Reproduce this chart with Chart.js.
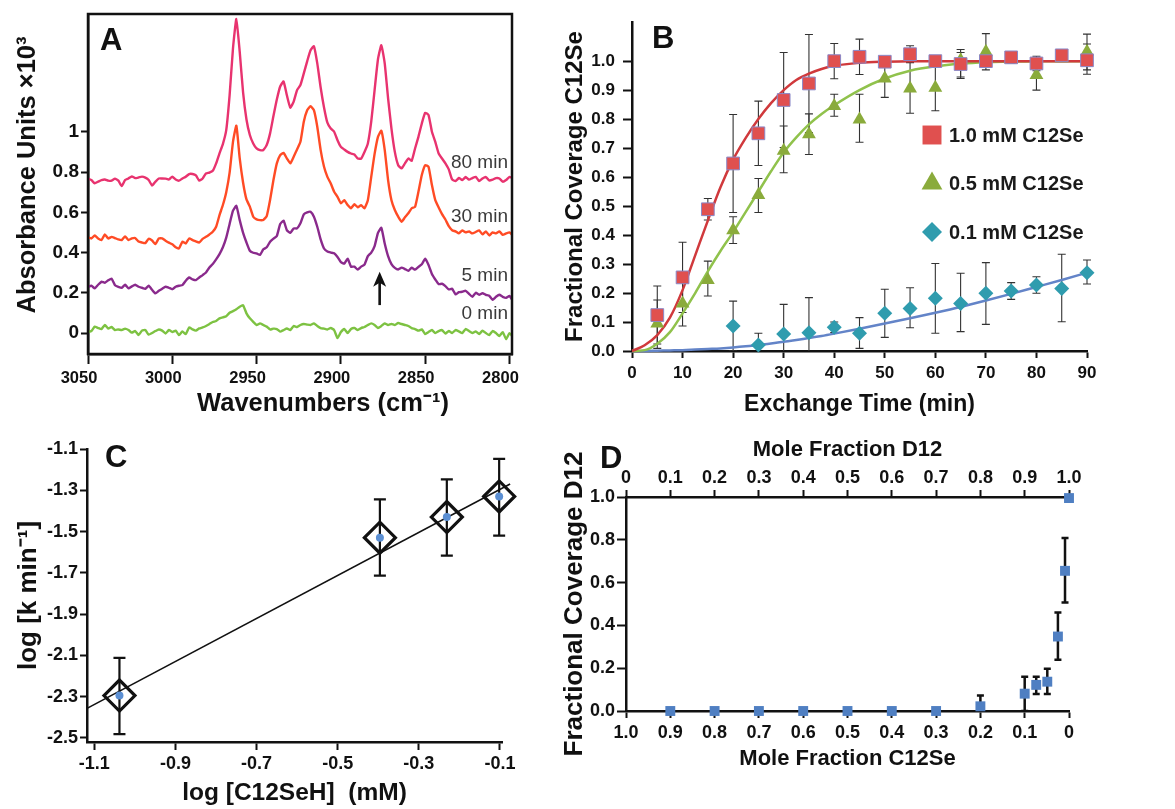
<!DOCTYPE html>
<html><head><meta charset="utf-8">
<script src="https://cdn.jsdelivr.net/npm/chart.js@4.4.1/dist/chart.umd.min.js"></script>
<style>
html,body{margin:0;padding:0;background:#fff;}
#wrap{position:relative;width:1175px;height:809px;overflow:hidden;background:#fff;}
canvas{position:absolute;}
</style></head><body>
<div id="wrap">
<canvas id="cA" width="545" height="425" style="left:0px;top:0px"></canvas>
<canvas id="cB" width="620" height="425" style="left:555px;top:0px"></canvas>
<canvas id="cC" width="545" height="389" style="left:0px;top:420px"></canvas>
<canvas id="cD" width="620" height="389" style="left:555px;top:420px"></canvas>
</div>
<script>
// ---------------- Panel A data ----------------
const waveNumbers = [
3050,3048,3046,3044,3042,3040,3038,3036,3034,3032,
3030,3028,3026,3024,3022,3020,3018,3016,3014,3012,
3010,3008,3006,3004,3002,3000,2998,2996,2994,2992,
2990,2988,2986,2984,2982,2980,2978,2976,2974,2972,
2970,2968,2966,2964,2962,2960,2958,2956,2954,2952,
2950,2948,2946,2944,2942,2940,2938,2936,2934,2932,
2930,2928,2926,2924,2922,2920,2918,2916,2914,2912,
2910,2908,2906,2904,2902,2900,2898,2896,2894,2892,
2890,2888,2886,2884,2882,2880,2878,2876,2874,2872,
2870,2868,2866,2864,2862,2860,2858,2856,2854,2852,
2850,2848,2846,2844,2842,2840,2838,2836,2834,2832,
2830,2828,2826,2824,2822,2820,2818,2816,2814,2812,
2810,2808,2806,2804,2802,2800,2798];
const abs80min = [
0.768,0.760,0.744,0.752,0.760,0.763,0.757,0.757,0.767,0.757,
0.730,0.760,0.768,0.778,0.770,0.773,0.777,0.772,0.760,0.733,
0.752,0.768,0.768,0.767,0.763,0.777,0.763,0.757,0.768,0.777,
0.790,0.790,0.783,0.757,0.768,0.793,0.797,0.806,0.843,0.893,
0.939,1.008,1.182,1.414,1.560,1.397,1.194,1.061,0.984,0.942,
0.917,0.909,0.909,0.934,0.992,1.078,1.160,1.225,1.250,1.180,
1.120,1.150,1.207,1.232,1.290,1.350,1.405,1.425,1.340,1.220,
1.121,1.045,1.016,1.000,0.958,0.925,0.912,0.900,0.892,0.887,
0.867,0.867,0.900,0.942,1.050,1.207,1.360,1.430,1.340,1.166,
1.016,0.900,0.834,0.818,0.843,0.867,0.856,0.917,0.975,1.041,
1.094,1.083,1.000,0.950,0.892,0.867,0.843,0.813,0.763,0.755,
0.770,0.760,0.775,0.762,0.770,0.776,0.755,0.768,0.775,0.758,
0.762,0.770,0.768,0.752,0.760,0.776,0.768];
const abs30min = [
0.475,0.470,0.485,0.470,0.462,0.490,0.470,0.478,0.472,0.465,
0.462,0.480,0.462,0.470,0.472,0.455,0.450,0.447,0.468,0.460,
0.442,0.470,0.470,0.459,0.449,0.441,0.426,0.421,0.454,0.445,
0.470,0.462,0.455,0.450,0.468,0.478,0.490,0.503,0.528,0.586,
0.636,0.700,0.797,0.950,1.030,0.868,0.747,0.664,0.628,0.578,
0.565,0.561,0.562,0.581,0.661,0.760,0.843,0.884,0.895,0.867,
0.843,0.876,0.912,0.950,1.050,1.107,1.127,1.107,1.025,0.909,
0.826,0.776,0.743,0.702,0.677,0.645,0.660,0.636,0.620,0.640,
0.625,0.635,0.620,0.660,0.776,0.890,0.975,1.005,0.910,0.760,
0.660,0.611,0.578,0.553,0.575,0.595,0.620,0.627,0.702,0.785,
0.834,0.826,0.735,0.660,0.624,0.591,0.564,0.531,0.511,0.505,
0.495,0.510,0.500,0.505,0.495,0.502,0.510,0.490,0.505,0.485,
0.500,0.495,0.505,0.488,0.495,0.500,0.485];
const abs5min = [
0.230,0.235,0.222,0.240,0.255,0.250,0.262,0.270,0.238,0.230,
0.225,0.240,0.222,0.232,0.240,0.230,0.225,0.220,0.235,0.215,
0.197,0.210,0.220,0.230,0.225,0.218,0.230,0.235,0.238,0.260,
0.276,0.267,0.263,0.276,0.288,0.301,0.326,0.343,0.366,0.392,
0.426,0.474,0.542,0.608,0.632,0.561,0.498,0.450,0.409,0.399,
0.396,0.388,0.416,0.426,0.454,0.469,0.482,0.542,0.558,0.510,
0.498,0.520,0.520,0.545,0.590,0.600,0.603,0.578,0.528,0.465,
0.420,0.405,0.400,0.396,0.378,0.352,0.345,0.370,0.330,0.330,
0.315,0.330,0.340,0.382,0.400,0.432,0.498,0.523,0.445,0.382,
0.342,0.324,0.316,0.325,0.318,0.309,0.325,0.315,0.329,0.342,
0.369,0.338,0.293,0.266,0.243,0.245,0.233,0.217,0.220,0.192,
0.203,0.205,0.210,0.195,0.180,0.200,0.190,0.198,0.190,0.185,
0.165,0.180,0.190,0.180,0.175,0.185,0.160];
const abs0min = [
0.005,0.010,0.032,0.025,0.020,0.040,0.022,0.030,0.015,0.018,
0.015,0.022,0.015,0.002,0.010,-0.010,0.012,0.015,-0.008,0.000,
0.010,0.018,0.012,-0.002,0.015,0.005,0.012,-0.010,0.008,-0.005,
0.028,0.018,0.012,0.023,0.028,0.035,0.045,0.055,0.060,0.073,
0.078,0.084,0.101,0.109,0.118,0.131,0.138,0.098,0.073,0.056,
0.040,0.048,0.040,0.032,0.018,0.022,0.020,0.007,0.015,0.023,
0.015,0.035,0.030,0.040,0.045,0.042,0.040,0.048,0.035,0.025,
0.022,0.018,0.025,0.015,-0.025,0.005,0.020,0.000,0.020,0.025,
0.015,0.025,0.030,0.040,0.048,0.040,0.025,0.035,0.048,0.040,
0.045,0.040,0.050,0.045,0.040,0.035,0.025,0.020,0.012,0.018,
-0.005,0.005,0.015,0.000,0.010,0.015,-0.002,0.010,0.000,0.015,
0.008,0.000,0.020,0.010,0.000,0.008,-0.005,0.012,0.000,-0.010,
0.010,0.000,-0.015,0.005,-0.030,0.000,-0.020];
const traceLabels = ['80 min','30 min','5 min','0 min'];
const waveTicks = [3050,3000,2950,2900,2850,2800];
const absTicks = [0,0.2,0.4,0.6,0.8,1];

// ---------------- Panel B data ----------------
const seriesNames = ['1.0 mM C12Se','0.5 mM C12Se','0.1 mM C12Se'];
const timePoints = [5,10,15,20,25,30,35,40,45,50,55,60,65,70,75,80,85,90];
const cov10 =   [0.124,0.254,0.489,0.647,0.751,0.866,0.923,1.000,1.015,0.998,1.024,1.000,0.990,1.000,1.013,0.992,1.020,1.003];
const cov10Lo = [0.024,0.133,0.452,0.478,0.640,0.702,0.754,0.939,0.954,0.988,0.995,0.995,0.940,0.990,0.993,0.967,1.010,0.955];
const cov10Hi = [0.224,0.375,0.526,0.816,0.862,1.030,1.092,1.061,1.076,1.008,1.053,1.005,1.040,1.010,1.033,1.017,1.030,1.059];
const cov05 =   [0.095,0.164,0.245,0.417,0.538,0.691,0.748,0.845,0.799,0.940,0.906,0.908,1.003,1.032,1.006,0.952,1.010,1.032];
const cov05Lo = [0.009,0.086,0.190,0.371,0.478,0.615,0.678,0.810,0.720,0.875,0.820,0.829,0.945,0.970,0.996,0.900,1.000,0.970];
const cov05Hi = [0.176,0.242,0.310,0.463,0.595,0.776,0.818,0.886,0.886,0.998,1.000,1.000,1.030,1.095,1.016,1.000,1.020,1.093];
const time01 =  [20,25,30,35,40,45,50,55,60,65,70,75,80,85,90];
const cov01 =   [0.086,0.021,0.059,0.063,0.082,0.061,0.130,0.147,0.182,0.164,0.199,0.207,0.228,0.216,0.270];
const cov01Lo = [0.000,-0.020,-0.043,-0.058,0.064,0.009,0.047,0.080,0.061,0.067,0.092,0.178,0.199,0.101,0.231];
const cov01Hi = [0.172,0.061,0.161,0.184,0.100,0.115,0.213,0.218,0.302,0.268,0.305,0.236,0.256,0.334,0.314];
const fitTime = [0,2.5,5,7.5,10,12.5,15,17.5,20,22.5,25,27.5,30,32.5,35,37.5,40,45,50,55,60,65,70,75,80,85,90];
const fit10 = [0,0.020,0.055,0.115,0.210,0.330,0.450,0.565,0.660,0.735,0.800,0.855,0.900,0.935,0.957,0.973,0.984,0.994,0.998,1.000,1.000,1.000,1.000,1.000,1.000,1.000,1.000];
const fit05 = [0,0.003,0.025,0.065,0.130,0.200,0.275,0.345,0.410,0.480,0.550,0.620,0.685,0.737,0.782,0.818,0.848,0.900,0.940,0.967,0.982,0.991,0.996,0.998,1.000,1.000,1.000];
const fit01 = [0,0,0.001,0.002,0.003,0.005,0.007,0.009,0.012,0.016,0.021,0.026,0.032,0.038,0.045,0.052,0.060,0.077,0.095,0.113,0.132,0.152,0.174,0.197,0.221,0.245,0.270];
const timeTicks = [0,10,20,30,40,50,60,70,80,90];
const covTicks = [0,0.1,0.2,0.3,0.4,0.5,0.6,0.7,0.8,0.9,1.0];

// ---------------- Panel C data ----------------
const logConc = [-1.038,-0.396,-0.231,-0.102];
const logK =    [-2.295,-1.530,-1.430,-1.330];
const logKLo =  [-2.482,-1.714,-1.617,-1.520];
const logKHi =  [-2.112,-1.344,-1.247,-1.148];
const fitLogConc = [-1.118,-0.075];
const fitLogK = [-2.357,-1.270];
const logConcTicks = [-1.1,-0.9,-0.7,-0.5,-0.3,-0.1];
const logKTicks = [-2.5,-2.3,-2.1,-1.9,-1.7,-1.5,-1.3,-1.1];

// ---------------- Panel D data ----------------
const fracC12Se = [0.9,0.8,0.7,0.6,0.5,0.4,0.3,0.2,0.1,0.074,0.049,0.025,0.009,0];
const covD12 =    [0,0,0,0,0,0,0,0.022,0.081,0.122,0.137,0.348,0.655,0.995];
const covD12Lo =  [null,null,null,null,null,null,null,-0.028,0.000,0.080,0.080,0.239,0.507,null];
const covD12Hi =  [null,null,null,null,null,null,null,0.072,0.160,0.160,0.198,0.460,0.808,null];
const fracC12SeTicks = [1.0,0.9,0.8,0.7,0.6,0.5,0.4,0.3,0.2,0.1,0];
const fracD12Ticks = [0,0.1,0.2,0.3,0.4,0.5,0.6,0.7,0.8,0.9,1.0];
const covD12Ticks = [0,0.2,0.4,0.6,0.8,1.0];

// ---------------- helpers ----------------
const FAM = "'Liberation Sans', Arial, Helvetica, sans-serif";
const bold = (size) => ({ size: size, weight: 'bold', family: FAM, lineHeight: 1.2 });
const pts = (xs, ys) => xs.map((x, i) => ({ x: x, y: ys[i] }));
const setTicks = arr => (s => { s.ticks = arr.map(v => ({ value: v })); });
const gridOpt = len => ({ display: true, drawOnChartArea: false, drawTicks: true, tickLength: len, tickWidth: 2, tickColor: '#111' });
const borderOpt = { display: true, color: '#111', width: 2.5 };
const oneDec = v => (Math.abs(v) < 1e-9 ? '0.0' : v.toFixed(1));

Chart.defaults.font.family = FAM;
Chart.defaults.color = '#111';

const errorBarPlugin = {
  id: 'errbars',
  beforeDatasetsDraw(chart) {
    const ctx = chart.ctx, ca = chart.chartArea;
    chart.data.datasets.forEach((ds, i) => {
      if (!ds.errLow) return;
      const meta = chart.getDatasetMeta(i);
      const ys = chart.scales[meta.yAxisID];
      ctx.save();
      ctx.beginPath();
      ctx.rect(ca.left - 30, ca.top - 30, ca.right - ca.left + 60, ca.bottom - ca.top + 30);
      ctx.clip();
      ctx.strokeStyle = ds.errColor || '#111';
      ctx.lineWidth = ds.errWidth || 1;
      const cap = ds.errCap || 4;
      meta.data.forEach((p, j) => {
        if (ds.errLow[j] == null) return;
        const lo = ys.getPixelForValue(ds.errLow[j]);
        const hi = ys.getPixelForValue(ds.errHigh[j]);
        ctx.beginPath();
        ctx.moveTo(p.x, lo); ctx.lineTo(p.x, hi);
        ctx.moveTo(p.x - cap, hi); ctx.lineTo(p.x + cap, hi);
        ctx.moveTo(p.x - cap, lo); ctx.lineTo(p.x + cap, lo);
        ctx.stroke();
      });
      ctx.restore();
    });
  }
};

const decorPlugin = {
  id: 'decor',
  afterDraw(chart, args, o) {
    const ctx = chart.ctx, ca = chart.chartArea;
    ctx.save();
    if (o.box) {
      ctx.strokeStyle = '#111'; ctx.lineWidth = 2.5;
      ctx.strokeRect(ca.left, ca.top, ca.right - ca.left, ca.bottom - ca.top);
    }
    if (o.arrow) {
      const a = o.arrow;
      const x = chart.scales.x.getPixelForValue(a.x);
      const y0 = chart.scales.y.getPixelForValue(a.from);
      const y1 = chart.scales.y.getPixelForValue(a.to);
      ctx.strokeStyle = '#111'; ctx.fillStyle = '#111'; ctx.lineWidth = 2.6;
      ctx.beginPath(); ctx.moveTo(x, y0); ctx.lineTo(x, y1 + 10); ctx.stroke();
      ctx.beginPath(); ctx.moveTo(x, y1); ctx.lineTo(x - 6.5, y1 + 15); ctx.lineTo(x, y1 + 11); ctx.lineTo(x + 6.5, y1 + 15); ctx.closePath(); ctx.fill();
    }
    if (o.legend) {
      o.legend.items.forEach((it, k) => {
        const y = o.legend.y0 + k * o.legend.dy;
        ctx.fillStyle = it.color; ctx.strokeStyle = it.color;
        Chart.helpers.drawPoint(ctx, { pointStyle: it.style, radius: it.radius, rotation: 0, borderWidth: 0 }, o.legend.x, y);
        ctx.fillStyle = '#1a1a1a';
        ctx.font = o.legend.font;
        ctx.textAlign = 'left'; ctx.textBaseline = 'middle';
        ctx.fillText(it.text, o.legend.x + 17, y + 1);
      });
    }
    (o.texts || []).forEach(t => {
      ctx.save();
      ctx.font = t.font;
      ctx.fillStyle = t.color || '#111';
      ctx.textAlign = t.align || 'left';
      ctx.textBaseline = t.baseline || 'alphabetic';
      const x = (t.dx !== undefined) ? chart.scales.x.getPixelForValue(t.dx) : t.x;
      const y = (t.dy !== undefined) ? chart.scales.y.getPixelForValue(t.dy) : t.y;
      ctx.translate(x, y);
      if (t.rotate) ctx.rotate(t.rotate);
      ctx.fillText(t.text, 0, 0);
      ctx.restore();
    });
    ctx.restore();
  }
};
Chart.register(errorBarPlugin, decorPlugin);

const baseOpts = { responsive: false, animation: false, events: [] };

// ---------------- Chart A ----------------
const lineDs = (label, ys, color) => ({
  label: label, data: pts(waveNumbers, ys), showLine: true, borderColor: color,
  borderWidth: 2.4, pointRadius: 0, tension: 0.15, fill: false
});
new Chart(document.getElementById('cA'), {
  type: 'scatter',
  data: { datasets: [
    lineDs(traceLabels[3], abs0min, '#7dc242'),
    lineDs(traceLabels[2], abs5min, '#8a2a8c'),
    lineDs(traceLabels[1], abs30min, '#ff4b25'),
    lineDs(traceLabels[0], abs80min, '#e8336f')
  ]},
  options: Object.assign({}, baseOpts, {
    layout: { padding: { top: 14, right: 33, left: 0, bottom: 0 } },
    plugins: {
      legend: { display: false }, tooltip: { enabled: false },
      decor: {
        box: true,
        arrow: { x: 2877, from: 0.139, to: 0.304 },
        texts: [
          { text: 'A', x: 100, y: 50, font: 'bold 31px ' + FAM },
          { text: 'Wavenumbers (cm\u207B\u00B9)', x: 323, y: 411, font: 'bold 25.5px ' + FAM, align: 'center' },
          { text: 'Absorbance Units \u00D710\u00B3', x: 28, y: 175, font: 'bold 25.5px ' + FAM, align: 'center', baseline: 'middle', rotate: -Math.PI / 2 },
          { text: traceLabels[0], dx: 2800.9, dy: 0.845, font: '19px ' + FAM, align: 'right', baseline: 'middle', color: '#3a3a3a' },
          { text: traceLabels[1], dx: 2800.9, dy: 0.576, font: '19px ' + FAM, align: 'right', baseline: 'middle', color: '#3a3a3a' },
          { text: traceLabels[2], dx: 2800.9, dy: 0.283, font: '19px ' + FAM, align: 'right', baseline: 'middle', color: '#3a3a3a' },
          { text: traceLabels[3], dx: 2800.9, dy: 0.097, font: '19px ' + FAM, align: 'right', baseline: 'middle', color: '#3a3a3a' }
        ]
      }
    },
    scales: {
      x: { type: 'linear', reverse: true, min: 2798.5, max: 3050,
        afterFit: s => { s.height = 71; }, afterBuildTicks: setTicks(waveTicks),
        ticks: { autoSkip: false, maxRotation: 0, padding: 5, labelOffset: -9, font: bold(16.5), color: '#111', callback: v => String(v) },
        grid: gridOpt(10), border: borderOpt, title: { display: false } },
      y: { type: 'linear', min: -0.104, max: 1.585,
        afterFit: s => { s.width = 88; }, afterBuildTicks: setTicks(absTicks),
        ticks: { autoSkip: false, padding: 2, font: bold(19), color: '#111', callback: v => (v === 0 ? '0' : (v === 1 ? '1' : v.toFixed(1))) },
        grid: gridOpt(7), border: borderOpt, title: { display: false } }
    }
  })
});

// ---------------- Chart B ----------------
const fitDs = (xs, ys, color) => ({ data: pts(xs, ys), showLine: true, borderColor: color, borderWidth: 2.5, pointRadius: 0, cubicInterpolationMode: 'monotone', fill: false, order: 10, clip: false });
new Chart(document.getElementById('cB'), {
  type: 'scatter',
  data: { datasets: [
    fitDs(fitTime, fit10, '#d0393c'),
    fitDs(fitTime, fit05, '#90c24c'),
    fitDs(fitTime, fit01, '#6384c8'),
    { label: seriesNames[2], data: pts(time01, cov01), pointStyle: 'rectRot', pointRadius: 7.5, backgroundColor: '#2f9cae', borderWidth: 0, order: 3, clip: false,
      errLow: cov01Lo, errHigh: cov01Hi, errColor: '#333', errWidth: 1.1, errCap: 4 },
    { label: seriesNames[1], data: pts(timePoints, cov05), pointStyle: 'triangle', pointRadius: 8, backgroundColor: '#8aab3b', borderWidth: 0, order: 2, clip: false,
      errLow: cov05Lo, errHigh: cov05Hi, errColor: '#333', errWidth: 1.1, errCap: 4 },
    { label: seriesNames[0], data: pts(timePoints, cov10), pointStyle: 'rect', pointRadius: 9, backgroundColor: '#e0504f', borderColor: '#8a88c8', borderWidth: 1, order: 1, clip: false,
      errLow: cov10Lo, errHigh: cov10Hi, errColor: '#333', errWidth: 1.1, errCap: 4 }
  ]},
  options: Object.assign({}, baseOpts, {
    layout: { padding: { top: 22, right: 88, left: 0, bottom: 0 } },
    plugins: {
      legend: { display: false }, tooltip: { enabled: false },
      decor: {
        legend: { x: 377, y0: 135, dy: 48.5, font: 'bold 20px ' + FAM, items: [
          { text: seriesNames[0], color: '#e0504f', style: 'rect', radius: 13.4 },
          { text: seriesNames[1], color: '#8aab3b', style: 'triangle', radius: 12 },
          { text: seriesNames[2], color: '#2f9cae', style: 'rectRot', radius: 10 }
        ]},
        texts: [ { text: 'B', x: 97, y: 48, font: 'bold 31px ' + FAM } ]
      }
    },
    scales: {
      x: { type: 'linear', min: 0, max: 90,
        afterFit: s => { s.height = 74; }, afterBuildTicks: setTicks(timeTicks),
        ticks: { autoSkip: false, maxRotation: 0, padding: 5, font: bold(17), color: '#111', callback: v => String(v) },
        grid: gridOpt(7), border: borderOpt,
        title: { display: true, text: 'Exchange Time (min)', font: bold(23), color: '#111', padding: { top: 0, bottom: 7 } } },
      y: { type: 'linear', min: 0, max: 1.135,
        afterFit: s => { s.width = 77; }, afterBuildTicks: setTicks(covTicks),
        ticks: { autoSkip: false, padding: 8, font: bold(17), color: '#111', callback: oneDec },
        grid: gridOpt(9), border: borderOpt,
        title: { display: true, text: 'Fractional Coverage C12Se', font: bold(24), color: '#111', padding: { top: 5.6, bottom: 0 } } }
    }
  })
});

// ---------------- Chart C ----------------
new Chart(document.getElementById('cC'), {
  type: 'scatter',
  data: { datasets: [
    { data: pts(fitLogConc, fitLogK), showLine: true, borderColor: '#111', borderWidth: 1.6, pointRadius: 0, order: 3, clip: false },
    { data: pts(logConc, logK), pointStyle: 'rectRot', pointRadius: 15.5, backgroundColor: 'rgba(0,0,0,0)', borderColor: '#111', borderWidth: 3.2, order: 2, clip: false,
      errLow: logKLo, errHigh: logKHi, errColor: '#111', errWidth: 2.2, errCap: 6 },
    { data: pts(logConc, logK), pointStyle: 'circle', pointRadius: 4, backgroundColor: '#5b8fd3', borderWidth: 0, order: 1, clip: false }
  ]},
  options: Object.assign({}, baseOpts, {
    layout: { padding: { top: 29, right: 43, left: 0, bottom: 0 } },
    plugins: {
      legend: { display: false }, tooltip: { enabled: false },
      decor: { texts: [ { text: 'C', x: 105, y: 47, font: 'bold 31px ' + FAM } ] }
    },
    scales: {
      x: { type: 'linear', min: -1.118, max: -0.095,
        afterFit: s => { s.height = 67; }, afterBuildTicks: setTicks(logConcTicks),
        ticks: { autoSkip: false, maxRotation: 0, padding: 3, font: bold(18), color: '#111', callback: oneDec },
        grid: gridOpt(8), border: borderOpt,
        title: { display: true, text: 'log [C12SeH]  (mM)', font: bold(24.5), color: '#111', padding: { top: 0, bottom: 1.3 } } },
      y: { type: 'linear', min: -2.52, max: -1.1,
        afterFit: s => { s.width = 87; }, afterBuildTicks: setTicks(logKTicks),
        ticks: { autoSkip: false, padding: 2, font: bold(18), color: '#111', callback: oneDec },
        grid: gridOpt(7), border: borderOpt,
        title: { display: true, text: 'log [k min\u207B\u00B9]', font: bold(26), color: '#111', padding: { top: 13.4, bottom: 0 } } }
    }
  })
});

// ---------------- Chart D ----------------
new Chart(document.getElementById('cD'), {
  type: 'scatter',
  data: { datasets: [
    { data: pts(fracC12Se, covD12), xAxisID: 'x', yAxisID: 'y', pointStyle: 'rect', pointRadius: 7, backgroundColor: '#4f7fc2', borderWidth: 0, clip: false,
      errLow: covD12Lo, errHigh: covD12Hi, errColor: '#111', errWidth: 2.5, errCap: 3.5 }
  ]},
  options: Object.assign({}, baseOpts, {
    layout: { padding: { top: 0, right: 106, left: 0, bottom: 0 } },
    plugins: {
      legend: { display: false }, tooltip: { enabled: false },
      decor: { texts: [ { text: 'D', x: 45, y: 48, font: 'bold 31px ' + FAM } ] }
    },
    scales: {
      x: { type: 'linear', position: 'bottom', reverse: true, min: 0, max: 1,
        afterFit: s => { s.height = 98; }, afterBuildTicks: setTicks(fracC12SeTicks),
        ticks: { autoSkip: false, maxRotation: 0, padding: 4, font: bold(18), color: '#111', callback: v => (v === 0 ? '0' : v.toFixed(1)) },
        grid: gridOpt(7), border: borderOpt,
        title: { display: true, text: 'Mole Fraction C12Se', font: bold(22), color: '#111', padding: { top: 0, bottom: 37 } } },
      x2: { type: 'linear', position: 'top', display: true, min: 0, max: 1,
        afterFit: s => { s.height = 77; }, afterBuildTicks: setTicks(fracD12Ticks),
        ticks: { autoSkip: false, maxRotation: 0, padding: 1, font: bold(18), color: '#111', callback: v => (v === 0 ? '0' : v.toFixed(1)) },
        grid: gridOpt(7), border: borderOpt,
        title: { display: true, text: 'Mole Fraction D12', font: bold(22), color: '#111', padding: { top: 17, bottom: 0 } } },
      y: { type: 'linear', min: 0, max: 1,
        afterFit: s => { s.width = 71; }, afterBuildTicks: setTicks(covD12Ticks),
        ticks: { autoSkip: false, padding: 2, font: bold(18), color: '#111', callback: oneDec },
        grid: gridOpt(9), border: borderOpt,
        title: { display: true, text: 'Fractional Coverage D12', font: bold(26), color: '#111', padding: { top: 4.4, bottom: 0 } } }
    }
  })
});
</script>
</body></html>
